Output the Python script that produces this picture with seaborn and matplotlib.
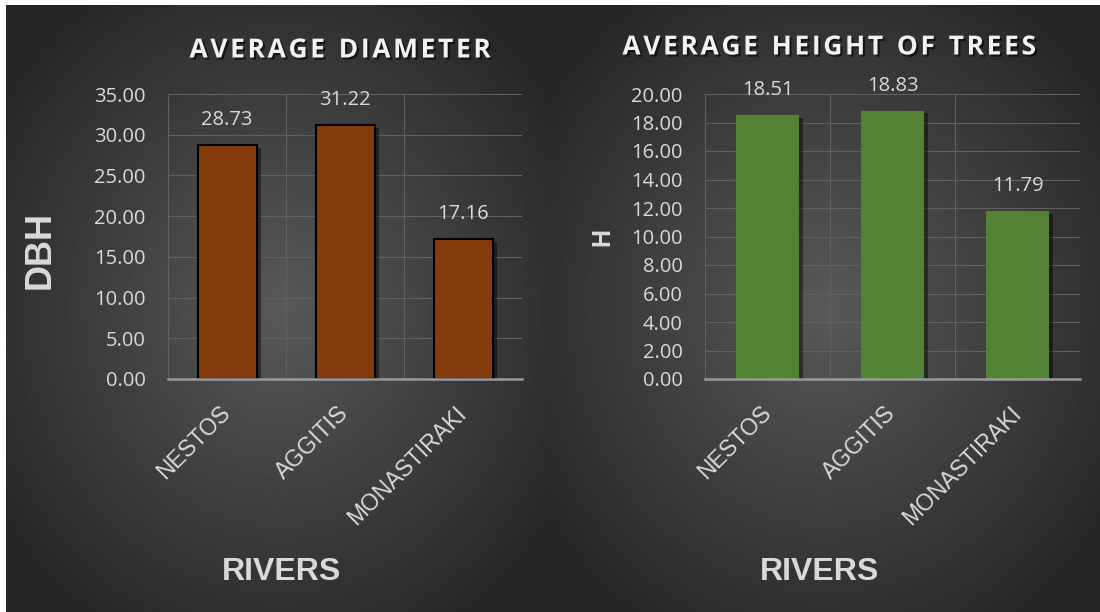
import numpy as np
import matplotlib
matplotlib.use('Agg')
import matplotlib.pyplot as plt
import matplotlib.patheffects as pe
from matplotlib.ticker import FormatStrFormatter
import seaborn as sns

# Chart values
rivers = ['NESTOS', 'AGGITIS', 'MONASTIRAKI']
dbh_values = [28.73, 31.22, 17.16]
height_values = [18.51, 18.83, 11.79]

sns.set_style('dark')
plt.rcParams['font.family'] = ['Open Sans', 'DejaVu Sans']

TEXT = '#d9d9d9'
HS = '\u200a'  # hair space for letter spacing


def spaced(s):
    return HS.join(list(s))


fig = plt.figure(figsize=(11, 6.12), dpi=100, facecolor='white')


# Radial gradient background for each panel
def radial_bg(rect):
    bg = fig.add_axes(rect, zorder=0)
    yy, xx = np.mgrid[-1:1:400j, -1:1:400j]
    r = np.clip(np.sqrt(xx ** 2 + yy ** 2) / 1.25, 0, 1)
    light, dark = 0.35, 0.15
    img = light + (dark - light) * r
    bg.imshow(img, cmap='gray', vmin=0, vmax=1, aspect='auto', interpolation='bilinear')
    bg.set_axis_off()


radial_bg([6 / 1100, 0, 544 / 1100, 607 / 612])
radial_bg([550 / 1100, 0, 550 / 1100, 607 / 612])

ax1 = fig.add_axes([168 / 1100, 1 - 379 / 612, 354 / 1100, 285 / 612], zorder=2)
ax2 = fig.add_axes([705 / 1100, 1 - 379 / 612, 375 / 1100, 285 / 612], zorder=2)

sns.barplot(x=rivers, y=dbh_values, color='#843C0C', saturation=1, width=0.5,
            edgecolor='black', linewidth=1.5, ax=ax1)
sns.barplot(x=rivers, y=height_values, color='#548235', saturation=1, width=0.5,
            linewidth=0, ax=ax2)

setups = [
    (ax1, dbh_values, 35, 5),
    (ax2, height_values, 20, 2),
]

for ax, vals, top, step in setups:
    ax.set_facecolor('none')
    ax.set_xlim(-0.5, 2.5)
    ax.set_ylim(0, top)
    ax.set_yticks(np.arange(0, top + step / 2, step))
    ax.yaxis.set_major_formatter(FormatStrFormatter('%.2f'))
    ax.set_xticks([-0.5, 0.5, 1.5, 2.5], minor=True)
    ax.grid(True, which='major', axis='y', color='#606060', linewidth=0.8)
    ax.grid(True, which='minor', axis='x', color='#606060', linewidth=0.8)
    ax.grid(False, which='major', axis='x')
    ax.set_axisbelow(True)
    for s in ['left', 'right', 'top']:
        ax.spines[s].set_visible(False)
    ax.spines['bottom'].set_color('#9a9a9a')
    ax.spines['bottom'].set_linewidth(1.8)
    ax.tick_params(axis='both', which='both', length=0)
    ax.tick_params(axis='y', labelsize=14.5, labelcolor=TEXT, pad=16)
    ax.set_xticks(range(len(rivers)))
    ax.set_xticklabels(rivers, rotation=45, ha='right', va='center',
                       rotation_mode='anchor', fontsize=16.5, color=TEXT,
                       family=['Liberation Sans', 'DejaVu Sans'])
    ax.tick_params(axis='x', pad=22)
    ax.set_xlabel('')
    ax.set_ylabel('')

    for p in ax.patches:
        p.set_path_effects([pe.SimplePatchShadow(offset=(3, -2), shadow_rgbFace='black', alpha=0.45),
                            pe.Normal()])

    for i, v in enumerate(vals):
        ax.annotate(f'{v:.2f}', (i, v), xytext=(0, 18), textcoords='offset points',
                    ha='center', va='center', fontsize=14.5, color=TEXT)

shadow = [pe.withSimplePatchShadow(offset=(1.5, -1.5), shadow_rgbFace='black', alpha=0.6)]

fig.text(340 / 1100, 1 - 50 / 612, spaced('AVERAGE') + '  ' + spaced('DIAMETER'),
         ha='center', va='center', fontsize=19, fontweight='bold', color='#f2f2f2',
         path_effects=shadow)
fig.text(829 / 1100, 1 - 47 / 612,
         '  '.join(spaced(w) for w in 'AVERAGE HEIGHT OF TREES'.split()),
         ha='center', va='center', fontsize=19, fontweight='bold', color='#f2f2f2',
         path_effects=shadow)

lab = dict(fontweight='bold', color=TEXT, family=['Liberation Sans', 'DejaVu Sans'])
fig.text(40 / 1100, 1 - 250 / 612, 'DBH', rotation=90, ha='center', va='center',
         fontsize=26, **lab)
fig.text(602 / 1100, 1 - 237 / 612, 'H', rotation=90, ha='center', va='center',
         fontsize=18, **lab)
fig.text(282 / 1100, 1 - 572 / 612, 'RIVERS', ha='center', va='center', fontsize=23, **lab)
fig.text(820 / 1100, 1 - 572 / 612, 'RIVERS', ha='center', va='center', fontsize=23, **lab)

fig.savefig('out.png', dpi=100, facecolor='white')
